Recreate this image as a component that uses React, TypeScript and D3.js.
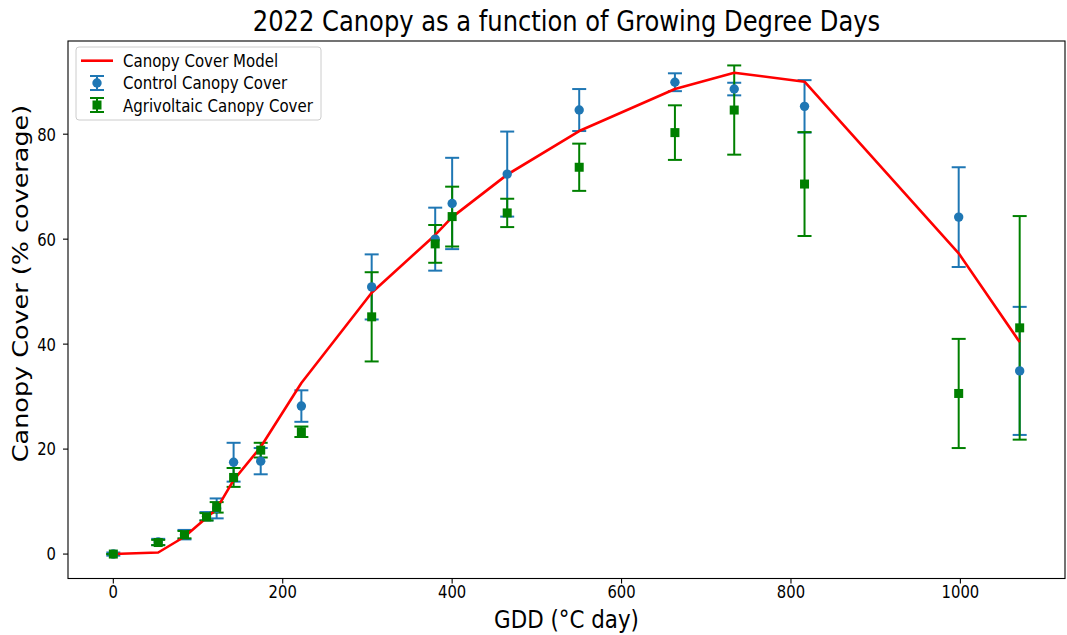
import React from "react";
import * as d3 from "d3";

// Growing degree days at each sampling date
const gdd = [0, 53, 84, 110, 122, 142, 174, 222, 305, 380, 400, 465, 550, 663, 733, 816, 998, 1070];

// Control plots: mean canopy cover and its error
const controlCover = [0, 2.3, 3.7, 7.2, 8.7, 17.5, 17.7, 28.2, 50.9, 60.0, 66.8, 72.4, 84.6, 89.9, 88.6, 85.3, 64.2, 34.9];
const controlErr = [0.3, 0.6, 0.9, 0.8, 1.9, 3.7, 2.5, 3.0, 6.2, 6.0, 8.7, 8.1, 4.0, 1.7, 1.2, 5.0, 9.5, 12.2];

// Agrivoltaic plots: mean canopy cover and its error
const agriCover = [0, 2.2, 3.7, 7.1, 8.9, 14.6, 19.8, 23.3, 45.2, 59.1, 64.3, 65.0, 73.7, 80.3, 84.6, 70.5, 30.6, 43.1];
const agriErr = [0, 0.5, 0.7, 0.7, 1.0, 1.8, 1.4, 1.0, 8.5, 3.6, 5.7, 2.7, 4.5, 5.2, 8.5, 9.9, 10.4, 21.3];

// Canopy cover model evaluated at the same GDD values
const modelCover = [0, 0.3, 3.3, 6.9, 8.6, 14.1, 20.4, 32.6, 49.8, 60.8, 64.2, 72.3, 80.6, 88.6, 91.7, 90.0, 57.3, 40.4];

const xTicks = [0, 200, 400, 600, 800, 1000];
const yTicks = [0, 20, 40, 60, 80];

const W = 1067;
const H = 635;
const plot = { left: 68, right: 1065, top: 41, bottom: 578.5 };

const BLUE = "#1f77b4";
const GREEN = "#008000";
const RED = "#ff0000";
const FONT = "DejaVu Sans, sans-serif";
// glyphs are drawn a little taller than wide
const STRETCH = 1.19;

type TProps = {
  x: number;
  y: number;
  size: number;
  anchor?: "start" | "middle" | "end";
  rotate?: number;
  children: React.ReactNode;
};

function Label({ x, y, size, anchor = "start", rotate = 0, children }: TProps) {
  return (
    <text
      transform={`translate(${x},${y}) scale(1,${STRETCH})${rotate ? ` rotate(${rotate})` : ""}`}
      textAnchor={anchor}
      fontSize={size}
      fill="#000"
    >
      {children}
    </text>
  );
}

export default function App() {
  const x = d3.scaleLinear().domain([-53.5, 1123.5]).range([plot.left, plot.right]);
  const y = d3.scaleLinear().domain([-4.655, 97.755]).range([plot.bottom, plot.top]);

  const modelLine = d3
    .line<number>()
    .x((_, i) => x(gdd[i]))
    .y((v) => y(v))(modelCover) as string;

  const cap = 7;

  const bars = (vals: number[], errs: number[], color: string, key: string) =>
    vals.map((v, i) => {
      const cx = x(gdd[i]);
      const y1 = y(v + errs[i]);
      const y0 = y(v - errs[i]);
      return (
        <g key={key + i} stroke={color} strokeWidth={2} fill="none">
          <line x1={cx} x2={cx} y1={y0} y2={y1} />
          <line x1={cx - cap} x2={cx + cap} y1={y0} y2={y0} />
          <line x1={cx - cap} x2={cx + cap} y1={y1} y2={y1} />
        </g>
      );
    });

  const legendX = 76;
  const legendY = 47;
  const tickSize = 14.8;

  return (
    <svg width={W} height={H} style={{ position: "absolute", left: 0, top: 0 }} fontFamily={FONT}>
      <rect x={0} y={0} width={W} height={H} fill="#fff" />

      <Label x={(plot.left + plot.right) / 2} y={31} size={24.2} anchor="middle">
        2022 Canopy as a function of Growing Degree Days
      </Label>

      {/* error bars sit under the model line and the markers */}
      {bars(controlCover, controlErr, BLUE, "cb")}
      {bars(agriCover, agriErr, GREEN, "ab")}

      <path d={modelLine} fill="none" stroke={RED} strokeWidth={2.6} strokeLinejoin="round" />

      {controlCover.map((v, i) => (
        <circle key={"c" + i} cx={x(gdd[i])} cy={y(v)} r={4.7} fill={BLUE} />
      ))}
      {agriCover.map((v, i) => (
        <rect key={"a" + i} x={x(gdd[i]) - 4.5} y={y(v) - 4.5} width={9} height={9} fill={GREEN} />
      ))}

      {/* axes frame */}
      <rect
        x={plot.left}
        y={plot.top}
        width={plot.right - plot.left}
        height={plot.bottom - plot.top}
        fill="none"
        stroke="#000"
        strokeWidth={1.1}
      />

      {xTicks.map((t) => (
        <g key={"xt" + t}>
          <line x1={x(t)} x2={x(t)} y1={plot.bottom} y2={plot.bottom + 5} stroke="#000" strokeWidth={1.1} />
          <Label x={x(t)} y={598} size={tickSize} anchor="middle">
            {t}
          </Label>
        </g>
      ))}
      {yTicks.map((t) => (
        <g key={"yt" + t}>
          <line x1={plot.left - 5} x2={plot.left} y1={y(t)} y2={y(t)} stroke="#000" strokeWidth={1.1} />
          <Label x={56} y={y(t) + 6.4} size={tickSize} anchor="end">
            {t}
          </Label>
        </g>
      ))}

      <Label x={(plot.left + plot.right) / 2} y={628} size={21.4} anchor="middle">
        GDD (°C day)
      </Label>
      <Label x={28} y={283.5} size={21.4} anchor="middle" rotate={-90}>
        Canopy Cover (% coverage)
      </Label>

      {/* legend */}
      <g>
        <rect
          x={legendX}
          y={legendY}
          width={245}
          height={73}
          rx={3}
          fill="#fff"
          fillOpacity={0.8}
          stroke="#cccccc"
          strokeWidth={1}
        />
        <line x1={81} x2={113} y1={60.7} y2={60.7} stroke={RED} strokeWidth={2.6} />
        <g stroke={BLUE} strokeWidth={2}>
          <line x1={97} x2={97} y1={76} y2={90} />
          <line x1={97 - cap} x2={97 + cap} y1={76} y2={76} />
          <line x1={97 - cap} x2={97 + cap} y1={90} y2={90} />
        </g>
        <circle cx={97} cy={83} r={4.7} fill={BLUE} />
        <g stroke={GREEN} strokeWidth={2}>
          <line x1={97} x2={97} y1={98} y2={112} />
          <line x1={97 - cap} x2={97 + cap} y1={98} y2={98} />
          <line x1={97 - cap} x2={97 + cap} y1={112} y2={112} />
        </g>
        <rect x={97 - 4.5} y={105 - 4.5} width={9} height={9} fill={GREEN} />
        <Label x={123} y={67} size={15}>Canopy Cover Model</Label>
        <Label x={123} y={89.2} size={15}>Control Canopy Cover</Label>
        <Label x={123} y={111.5} size={15}>Agrivoltaic Canopy Cover</Label>
      </g>
    </svg>
  );
}
